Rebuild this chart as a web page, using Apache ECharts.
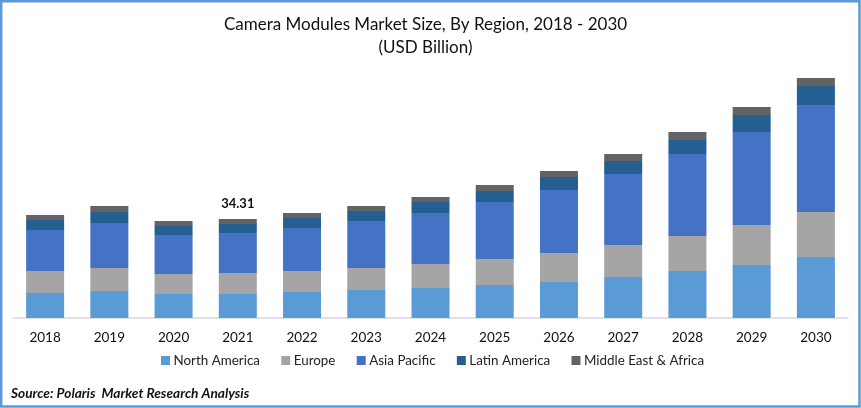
<!DOCTYPE html>
<html>
<head>
<meta charset="utf-8">
<style>
  html, body { margin: 0; padding: 0; background: #fff; }
  #main { width: 861px; height: 408px; }
</style>
<script src="https://cdn.jsdelivr.net/npm/echarts@6/dist/echarts.min.js"></script>
</head>
<body>
<div id="main"></div>
<script>
var years = ['2018', '2019', '2020', '2021', '2022', '2023', '2024', '2025', '2026', '2027', '2028', '2029', '2030'];
var northAmerica = [8.67, 9.36, 8.32, 8.32, 9.01, 9.70, 10.40, 11.44, 12.48, 14.21, 16.29, 18.37, 21.14];
var europe = [7.63, 7.97, 6.93, 7.28, 7.28, 7.63, 8.32, 9.01, 10.05, 11.09, 12.13, 13.86, 15.60];
var asiaPacific = [14.21, 15.60, 13.52, 13.86, 14.90, 16.29, 17.68, 19.76, 21.84, 24.61, 28.42, 32.23, 37.09];
var latinAmerica = [3.47, 3.81, 3.12, 3.12, 3.47, 3.47, 3.81, 3.81, 4.51, 4.51, 4.85, 5.89, 6.59];
var middleEast = [1.73, 2.08, 1.73, 1.73, 1.73, 1.73, 1.73, 2.08, 2.08, 2.43, 2.77, 2.77, 2.77];
var labelledYear = '2021';
var labelledTotal = '34.31';

var FONT = 'Lato, "Open Sans", sans-serif';
var myChart = echarts.init(document.getElementById('main'), null, { renderer: 'canvas' });

function barSeries(name, data, color) {
  return {
    name: name,
    type: 'bar',
    stack: 'total',
    barWidth: 38,
    data: data,
    itemStyle: { color: color },
    animation: false
  };
}

var series = [
  barSeries('North America', northAmerica, '#5B9BD5'),
  barSeries('Europe', europe, '#A5A5A5'),
  barSeries('Asia Pacific', asiaPacific, '#4472C4'),
  barSeries('Latin America', latinAmerica, '#255E91'),
  barSeries('Middle East & Africa', middleEast, '#636363')
];

// only one bar carries the total label
series[4].label = {
  show: true,
  position: 'top',
  distance: 9,
  fontFamily: FONT,
  fontSize: 13,
  fontWeight: 'bold',
  color: '#111',
  formatter: function (p) {
    return p.name === labelledYear ? labelledTotal : '';
  }
};

myChart.setOption({
  backgroundColor: '#fff',
  animation: false,
  title: [
    {
      text: 'Camera Modules Market Size, By Region, 2018 - 2030\n(USD Billion)',
      left: 420.5,
      top: 8,
      textAlign: 'center',
      textStyle: { fontFamily: FONT, fontSize: 17, fontWeight: 'normal', color: '#111', lineHeight: 23 }
    },
    {
      text: 'Source: Polaris  Market Research Analysis',
      left: 6,
      top: 382,
      textStyle: { fontFamily: FONT, fontSize: 13.7, fontWeight: 'bold', fontStyle: 'italic', color: '#111' }
    }
  ],
  legend: {
    top: 349,
    left: 156,
    icon: 'rect',
    itemWidth: 9,
    itemHeight: 9,
    itemGap: 21.3,
    textStyle: { fontFamily: FONT, fontSize: 13.4, color: '#222', padding: [0, 0, 0, -1.5] }
  },
  grid: { left: 13, right: 13, top: 68, height: 250, containLabel: false },
  xAxis: {
    type: 'category',
    data: years,
    axisTick: { show: false },
    axisLine: { lineStyle: { color: '#D9D9D9', width: 1.5 } },
    axisLabel: { fontFamily: FONT, fontSize: 13.5, color: '#111', margin: 13 }
  },
  yAxis: { type: 'value', min: 0, max: 86.65, show: false },
  graphic: [
    {
      type: 'rect',
      silent: true,
      shape: { x: 1.2, y: 1.2, width: 858.3, height: 405.3 },
      style: { fill: 'none', stroke: '#5B9BD5', lineWidth: 2.5 }
    }
  ],
  series: series
});

window.addEventListener('resize', myChart.resize);
</script>
</body>
</html>
